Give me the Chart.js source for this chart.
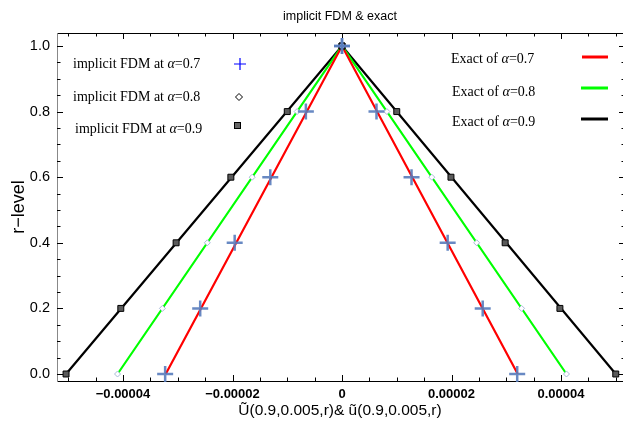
<!DOCTYPE html>
<html>
<head>
<meta charset="utf-8">
<script src="https://cdn.jsdelivr.net/npm/chart.js@4.4.1/dist/chart.umd.min.js"></script>
<style>
  html, body { margin: 0; padding: 0; background: #fff; overflow: hidden; }
  #wrap { width: 623px; height: 423px; position: relative; }
  canvas { display: block; }
</style>
</head>
<body>
<div id="wrap"><canvas id="myChart"></canvas></div>
<script>
// r-levels where the implicit FDM solution was computed
const rLevels = [0, 0.2, 0.4, 0.6, 0.8, 1.0];

// implicit FDM values, left and right branch, for each alpha
const fdm07Left = [-3.23e-5, -2.59e-5, -1.96e-5, -1.31e-5, -0.66e-5, 0];
const fdm07Right = [3.20e-5, 2.57e-5, 1.93e-5, 1.27e-5, 0.63e-5, 0];
const fdm08Left = [-4.10e-5, -3.28e-5, -2.46e-5, -1.64e-5, -0.82e-5, 0];
const fdm08Right = [4.10e-5, 3.28e-5, 2.46e-5, 1.64e-5, 0.82e-5, 0];
const fdm09Left = [-5.04e-5, -4.04e-5, -3.03e-5, -2.03e-5, -1.00e-5, 0];
const fdm09Right = [5.00e-5, 3.98e-5, 2.98e-5, 1.99e-5, 1.00e-5, 0];

// exact solution: left foot, peak, right foot
const exactR = [0, 1, 0];
const exact07 = [-3.22e-5, 0, 3.21e-5];
const exact08 = [-4.10e-5, 0, 4.10e-5];
const exact09 = [-5.04e-5, 0, 5.00e-5];

// tick labels
const xTickValues = [-4e-5, -2e-5, 0, 2e-5, 4e-5];
const yTickValues = [0, 0.2, 0.4, 0.6, 0.8, 1.0];

const SERIF = '"Liberation Serif", "Times New Roman", serif';
const SANS = '"Liberation Sans", Arial, sans-serif';

function branchPoints(left, right) {
  const pts = left.map((x, i) => ({ x: x, y: rLevels[i] }));
  return pts.concat(right.map((x, i) => ({ x: x, y: rLevels[i] })));
}
function exactPoints(xs) {
  return xs.map((x, i) => ({ x: x, y: exactR[i] }));
}

// Mathematica style frame with inward ticks
const framePlugin = {
  id: 'frame',
  beforeDatasetsDraw(chart) {
    const { ctx, chartArea: a, scales: { x, y } } = chart;
    ctx.save();
    ctx.lineWidth = 1;
    // frame
    ctx.strokeStyle = '#000';
    ctx.beginPath();
    ctx.moveTo(a.left, a.bottom + 0.5); ctx.lineTo(a.right, a.bottom + 0.5);
    ctx.moveTo(a.left, a.top + 0.5); ctx.lineTo(a.right, a.top + 0.5);
    ctx.moveTo(a.right + 1.5, a.top); ctx.lineTo(a.right + 1.5, a.bottom);
    ctx.stroke();
    ctx.strokeStyle = '#888';
    ctx.beginPath();
    ctx.moveTo(a.left + 0.5, a.top); ctx.lineTo(a.left + 0.5, a.bottom + 1);
    ctx.stroke();
    // x ticks (bottom & top)
    ctx.strokeStyle = '#000';
    ctx.beginPath();
    for (let k = -10; k <= 10; k++) {
      const px = Math.round(x.getPixelForValue(k * 0.5e-5)) + 0.5;
      const len = k % 4 === 0 ? 6 : 3.5;
      ctx.moveTo(px, a.bottom); ctx.lineTo(px, a.bottom - len);
      ctx.moveTo(px, a.top); ctx.lineTo(px, a.top + len);
    }
    ctx.stroke();
    // y ticks (left & right)
    ctx.beginPath();
    for (let k = 0; k <= 20; k++) {
      const py = Math.round(y.getPixelForValue(k * 0.05)) + 0.5;
      const len = k % 4 === 0 ? 6 : 3.5;
      ctx.moveTo(a.left, py); ctx.lineTo(a.left + len, py);
      ctx.moveTo(a.right + 2, py); ctx.lineTo(a.right + 2 - len, py);
    }
    ctx.stroke();
    ctx.restore();
  }
};

function richText(ctx, x, y, parts) {
  parts.forEach(p => {
    ctx.font = p.font;
    ctx.fillText(p.text, x, y);
    x += ctx.measureText(p.text).width;
  });
}

// plot title and the two text legends
const legendPlugin = {
  id: 'customLegend',
  afterDraw(chart) {
    const { ctx } = chart;
    ctx.save();
    ctx.fillStyle = '#000';
    ctx.textBaseline = 'middle';
    ctx.textAlign = 'center';
    ctx.font = '12.5px ' + SANS;
    ctx.fillText('implicit FDM & exact', 340, 17);

    ctx.textAlign = 'left';
    const fs = '14px ' + SERIF;
    const fi = 'italic 14px ' + SERIF;
    const leftRows = [['0.7', 73, 64], ['0.8', 73, 97], ['0.9', 75, 129]];
    leftRows.forEach(r => richText(ctx, r[1], r[2], [
      { text: 'implicit FDM at ', font: fs }, { text: 'α', font: fi }, { text: '=' + r[0], font: fs }]));
    const rightRows = [['0.7', 451, 59], ['0.8', 452, 92], ['0.9', 452, 122]];
    rightRows.forEach(r => richText(ctx, r[1], r[2], [
      { text: 'Exact of ', font: fs }, { text: 'α', font: fi }, { text: '=' + r[0], font: fs }]));

    // legend symbols
    ctx.lineWidth = 1.2;
    ctx.strokeStyle = '#0000ff';
    ctx.beginPath();
    ctx.moveTo(234, 64); ctx.lineTo(246, 64);
    ctx.moveTo(240, 58); ctx.lineTo(240, 70);
    ctx.stroke();
    ctx.lineWidth = 1;
    ctx.strokeStyle = '#000';
    ctx.fillStyle = '#fff';
    ctx.beginPath();
    ctx.moveTo(239, 93.5); ctx.lineTo(242.5, 97); ctx.lineTo(239, 100.5); ctx.lineTo(235.5, 97); ctx.closePath();
    ctx.fill(); ctx.stroke();
    ctx.fillStyle = '#666';
    ctx.fillRect(234.5, 122.5, 6, 6);
    ctx.strokeRect(234.5, 122.5, 6, 6);

    ctx.lineWidth = 3;
    [['#ff0000', 582, 57], ['#00ff00', 581, 88], ['#000000', 581, 119]].forEach(l => {
      ctx.strokeStyle = l[0];
      ctx.beginPath();
      ctx.moveTo(l[1], l[2]); ctx.lineTo(608, l[2]);
      ctx.stroke();
    });
    ctx.restore();
  }
};

const ctx = document.getElementById('myChart').getContext('2d');

const data = {
  datasets: [
    {
      label: 'implicit FDM at α=0.7',
      data: branchPoints(fdm07Left, fdm07Right),
      showLine: false,
      pointStyle: 'cross',
      pointRadius: 8,
      pointBorderWidth: 2.5,
      borderColor: 'rgba(88,124,188,0.9)',
      backgroundColor: 'rgba(88,124,188,0.9)',
      clip: false
    },
    {
      label: 'implicit FDM at α=0.8',
      data: branchPoints(fdm08Left, fdm08Right),
      showLine: false,
      pointStyle: 'rectRot',
      pointRadius: 3,
      pointBorderWidth: 1,
      borderColor: '#a8bad8',
      backgroundColor: '#ffffff',
      clip: false
    },
    {
      label: 'implicit FDM at α=0.9',
      data: branchPoints(fdm09Left, fdm09Right),
      showLine: false,
      pointStyle: 'rect',
      pointRadius: 4.2,
      pointBorderWidth: 1,
      borderColor: '#000000',
      backgroundColor: '#5a5a5a',
      clip: false
    },
    {
      label: 'Exact of α=0.7',
      data: exactPoints(exact07),
      showLine: true,
      pointRadius: 0,
      borderColor: '#ff0000',
      borderWidth: 2.2
    },
    {
      label: 'Exact of α=0.8',
      data: exactPoints(exact08),
      showLine: true,
      pointRadius: 0,
      borderColor: '#00ff00',
      borderWidth: 2.2
    },
    {
      label: 'Exact of α=0.9',
      data: exactPoints(exact09),
      showLine: true,
      pointRadius: 0,
      borderColor: '#000000',
      borderWidth: 2.2
    }
  ]
};

const config = {
  type: 'scatter',
  data: data,
  options: {
    responsive: true,
    maintainAspectRatio: false,
    animation: false,
    layout: { autoPadding: false, padding: { top: 33, right: 0, bottom: 0, left: 0 } },
    plugins: {
      legend: { display: false },
      tooltip: { enabled: false }
    },
    scales: {
      x: {
        type: 'linear',
        min: -5.2055e-5,
        max: 5.1324e-5,
        grid: { display: false, drawTicks: false },
        border: { display: false },
        afterBuildTicks: s => { s.ticks = xTickValues.map(v => ({ value: v })); },
        afterFit: s => { s.height = 42; s.paddingLeft = 0; s.paddingRight = 0; },
        ticks: {
          padding: 6,
          color: '#000',
          font: { family: SANS, size: 13, weight: 'bold' },
          callback: v => (v === 0 ? '0' : (v < 0 ? '\u2212' : '') + Math.abs(v).toFixed(5))
        },
        title: {
          display: true,
          text: 'U\u0303(0.9,0.005,r)& u\u0303(0.9,0.005,r)',
          color: '#000',
          font: { family: SANS, size: 15.5 },
          padding: { top: 3, bottom: 3 }
        }
      },
      y: {
        type: 'linear',
        min: -0.02134,
        max: 1.0396,
        grid: { display: false, drawTicks: false },
        border: { display: false },
        afterBuildTicks: s => { s.ticks = yTickValues.map(v => ({ value: v })); },
        afterFit: s => { s.width = 57; s.paddingTop = 0; s.paddingBottom = 0; },
        ticks: {
          padding: 7,
          color: '#000',
          font: { family: SANS, size: 14.5 },
          callback: v => v.toFixed(1)
        },
        title: {
          display: true,
          text: 'r\u2212level',
          color: '#000',
          font: { family: SANS, size: 18 },
          padding: { top: 8, bottom: 0 }
        }
      }
    }
  },
  plugins: [framePlugin, legendPlugin]
};

new Chart(ctx, config);
</script>
</body>
</html>
